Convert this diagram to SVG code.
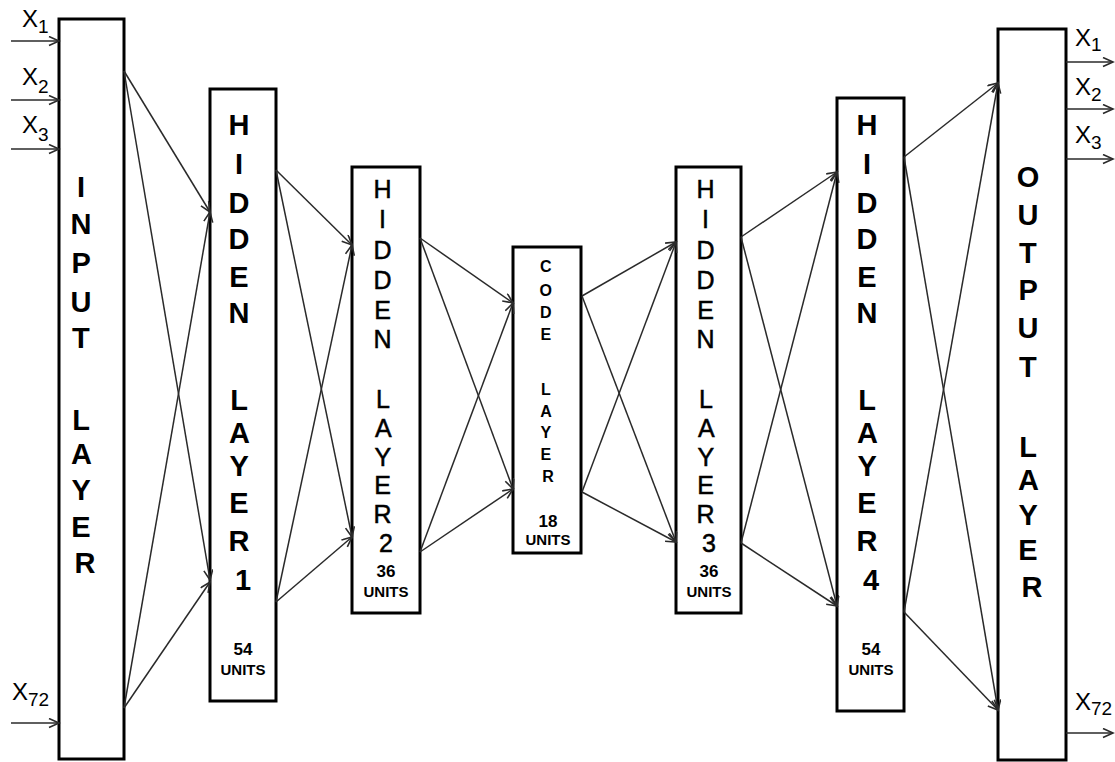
<svg xmlns="http://www.w3.org/2000/svg" width="1115" height="762" viewBox="0 0 1115 762">
  <defs>
    <marker id="arr" markerUnits="userSpaceOnUse" markerWidth="14" markerHeight="12" refX="11" refY="5" orient="auto">
      <path d="M1,0.5 L11,5 L1,9.5" fill="none" stroke="#2a2a2a" stroke-width="1.6"/>
    </marker>
    <style>
      .box { fill: #ffffff; stroke: #000000; stroke-width: 3; }
      .wire { stroke: #2a2a2a; stroke-width: 1.5; fill: none; marker-end: url(#arr); }
      .big { font-family: "Liberation Sans", Arial, sans-serif; font-weight: bold; font-size: 29px; fill: #000; text-anchor: middle; }
      .mid { font-family: "Liberation Sans", Arial, sans-serif; font-size: 25px; fill: #000; stroke: #000; stroke-width: 0.5; text-anchor: middle; }
      .small { font-family: "Liberation Sans", Arial, sans-serif; font-weight: bold; font-size: 16px; fill: #000; text-anchor: middle; }
      .units { font-family: "Liberation Sans", Arial, sans-serif; font-weight: bold; font-size: 15px; fill: #000; text-anchor: middle; }
      .num { font-family: "Liberation Sans", Arial, sans-serif; font-weight: bold; font-size: 17px; fill: #000; text-anchor: middle; }
      .xl { font-family: "Liberation Sans", Arial, sans-serif; font-size: 24px; fill: #000; }
      .sub { font-size: 19px; }
    </style>
  </defs>

  <rect width="1115" height="762" fill="#ffffff"/>

  <!-- input layer -->
  <g id="input-layer">
    <rect class="box" x="59" y="19" width="65" height="740"/>
    <text class="big">
      <tspan x="85" y="197">I</tspan>
      <tspan x="85" y="234">N</tspan>
      <tspan x="85" y="273">P</tspan>
      <tspan x="85" y="312">U</tspan>
      <tspan x="85" y="348">T</tspan>
      <tspan x="85" y="430">L</tspan>
      <tspan x="85" y="464">A</tspan>
      <tspan x="85" y="500">Y</tspan>
      <tspan x="85" y="537">E</tspan>
      <tspan x="85" y="573">R</tspan>
    </text>
  </g>

  <!-- hidden layer 1 -->
  <g id="hidden-layer-1">
    <rect class="box" x="210" y="89" width="66" height="612"/>
    <text class="big">
      <tspan x="243" y="135">H</tspan>
      <tspan x="243" y="174">I</tspan>
      <tspan x="243" y="213">D</tspan>
      <tspan x="243" y="249">D</tspan>
      <tspan x="243" y="287">E</tspan>
      <tspan x="243" y="323">N</tspan>
      <tspan x="243" y="410">L</tspan>
      <tspan x="243" y="443">A</tspan>
      <tspan x="243" y="476">Y</tspan>
      <tspan x="243" y="513">E</tspan>
      <tspan x="243" y="551">R</tspan>
      <tspan x="243" y="590">1</tspan>
    </text>
    <text class="num" x="243" y="655">54</text>
    <text class="units" x="243" y="675">UNITS</text>
  </g>

  <!-- hidden layer 2 -->
  <g id="hidden-layer-2">
    <rect class="box" x="352" y="167" width="68" height="446"/>
    <text class="mid">
      <tspan x="386" y="198">H</tspan>
      <tspan x="386" y="228">I</tspan>
      <tspan x="386" y="259">D</tspan>
      <tspan x="386" y="289">D</tspan>
      <tspan x="386" y="319">E</tspan>
      <tspan x="386" y="348">N</tspan>
      <tspan x="386" y="408">L</tspan>
      <tspan x="386" y="437">A</tspan>
      <tspan x="386" y="466">Y</tspan>
      <tspan x="386" y="494">E</tspan>
      <tspan x="386" y="523">R</tspan>
      <tspan x="386" y="552">2</tspan>
    </text>
    <text class="num" x="386" y="577">36</text>
    <text class="units" x="386" y="597">UNITS</text>
  </g>

  <!-- code layer -->
  <g id="code-layer">
    <rect class="box" x="513" y="247" width="68" height="306"/>
    <text class="small">
      <tspan x="548" y="272">C</tspan>
      <tspan x="548" y="296">O</tspan>
      <tspan x="548" y="318">D</tspan>
      <tspan x="548" y="340">E</tspan>
      <tspan x="548" y="395">L</tspan>
      <tspan x="548" y="417">A</tspan>
      <tspan x="548" y="438">Y</tspan>
      <tspan x="548" y="460">E</tspan>
      <tspan x="548" y="482">R</tspan>
    </text>
    <text class="num" x="548" y="527">18</text>
    <text class="units" x="548" y="545">UNITS</text>
  </g>

  <!-- hidden layer 3 -->
  <g id="hidden-layer-3">
    <rect class="box" x="676" y="167" width="65" height="446"/>
    <text class="mid">
      <tspan x="709" y="198">H</tspan>
      <tspan x="709" y="228">I</tspan>
      <tspan x="709" y="259">D</tspan>
      <tspan x="709" y="289">D</tspan>
      <tspan x="709" y="319">E</tspan>
      <tspan x="709" y="348">N</tspan>
      <tspan x="709" y="408">L</tspan>
      <tspan x="709" y="437">A</tspan>
      <tspan x="709" y="466">Y</tspan>
      <tspan x="709" y="494">E</tspan>
      <tspan x="709" y="523">R</tspan>
      <tspan x="709" y="552">3</tspan>
    </text>
    <text class="num" x="709" y="577">36</text>
    <text class="units" x="709" y="597">UNITS</text>
  </g>

  <!-- hidden layer 4 -->
  <g id="hidden-layer-4">
    <rect class="box" x="837" y="98" width="67" height="613"/>
    <text class="big">
      <tspan x="871" y="135">H</tspan>
      <tspan x="871" y="174">I</tspan>
      <tspan x="871" y="213">D</tspan>
      <tspan x="871" y="249">D</tspan>
      <tspan x="871" y="287">E</tspan>
      <tspan x="871" y="323">N</tspan>
      <tspan x="871" y="410">L</tspan>
      <tspan x="871" y="443">A</tspan>
      <tspan x="871" y="476">Y</tspan>
      <tspan x="871" y="513">E</tspan>
      <tspan x="871" y="551">R</tspan>
      <tspan x="871" y="590">4</tspan>
    </text>
    <text class="num" x="871" y="655">54</text>
    <text class="units" x="871" y="675">UNITS</text>
  </g>

  <!-- output layer -->
  <g id="output-layer">
    <rect class="box" x="998" y="29" width="68" height="731"/>
    <text class="big">
      <tspan x="1032" y="187">O</tspan>
      <tspan x="1032" y="225">U</tspan>
      <tspan x="1032" y="263">T</tspan>
      <tspan x="1032" y="300">P</tspan>
      <tspan x="1032" y="338">U</tspan>
      <tspan x="1032" y="377">T</tspan>
      <tspan x="1032" y="457">L</tspan>
      <tspan x="1032" y="490">A</tspan>
      <tspan x="1032" y="525">Y</tspan>
      <tspan x="1032" y="560">E</tspan>
      <tspan x="1032" y="597">R</tspan>
    </text>
  </g>

  <!-- input / output signal labels -->
  <g id="io-labels">
    <text class="xl" x="22" y="27">X<tspan class="sub" dy="6">1</tspan></text>
    <text class="xl" x="22" y="85">X<tspan class="sub" dy="8">2</tspan></text>
    <text class="xl" x="22" y="133">X<tspan class="sub" dy="8">3</tspan></text>
    <text class="xl" x="12" y="700">X<tspan class="sub" dy="6">72</tspan></text>
    <text class="xl" x="1075" y="46">X<tspan class="sub" dy="5">1</tspan></text>
    <text class="xl" x="1075" y="95">X<tspan class="sub" dy="6">2</tspan></text>
    <text class="xl" x="1075" y="143">X<tspan class="sub" dy="6">3</tspan></text>
    <text class="xl" x="1075" y="710">X<tspan class="sub" dy="5">72</tspan></text>
  </g>

  <!-- connectors -->
  <g id="connectors">
    <line class="wire" x1="11" y1="41" x2="59" y2="41"/>
    <line class="wire" x1="11" y1="100" x2="59" y2="100"/>
    <line class="wire" x1="11" y1="149" x2="59" y2="149"/>
    <line class="wire" x1="11" y1="723" x2="59" y2="723"/>

    <line class="wire" x1="124" y1="71" x2="210" y2="212"/>
    <line class="wire" x1="124" y1="71" x2="210" y2="580"/>
    <line class="wire" x1="124" y1="708" x2="210" y2="212"/>
    <line class="wire" x1="124" y1="708" x2="210" y2="582"/>

    <line class="wire" x1="276" y1="170" x2="352" y2="245"/>
    <line class="wire" x1="276" y1="170" x2="352" y2="537"/>
    <line class="wire" x1="276" y1="602" x2="352" y2="245"/>
    <line class="wire" x1="276" y1="602" x2="352" y2="537"/>

    <line class="wire" x1="420" y1="238" x2="513" y2="303"/>
    <line class="wire" x1="420" y1="238" x2="513" y2="489"/>
    <line class="wire" x1="420" y1="552" x2="513" y2="303"/>
    <line class="wire" x1="420" y1="552" x2="513" y2="489"/>

    <line class="wire" x1="582" y1="296" x2="676" y2="242"/>
    <line class="wire" x1="582" y1="296" x2="676" y2="542"/>
    <line class="wire" x1="582" y1="492" x2="676" y2="242"/>
    <line class="wire" x1="582" y1="492" x2="676" y2="542"/>

    <line class="wire" x1="741" y1="237" x2="837" y2="172"/>
    <line class="wire" x1="741" y1="237" x2="837" y2="606"/>
    <line class="wire" x1="741" y1="543" x2="837" y2="172"/>
    <line class="wire" x1="741" y1="543" x2="837" y2="606"/>

    <line class="wire" x1="904" y1="157" x2="998" y2="83"/>
    <line class="wire" x1="904" y1="157" x2="998" y2="710"/>
    <line class="wire" x1="904" y1="612" x2="998" y2="83"/>
    <line class="wire" x1="904" y1="612" x2="998" y2="710"/>

    <line class="wire" x1="1066" y1="62" x2="1113" y2="62"/>
    <line class="wire" x1="1066" y1="109" x2="1113" y2="109"/>
    <line class="wire" x1="1066" y1="159" x2="1113" y2="159"/>
    <line class="wire" x1="1066" y1="733" x2="1113" y2="733"/>
  </g>
</svg>
